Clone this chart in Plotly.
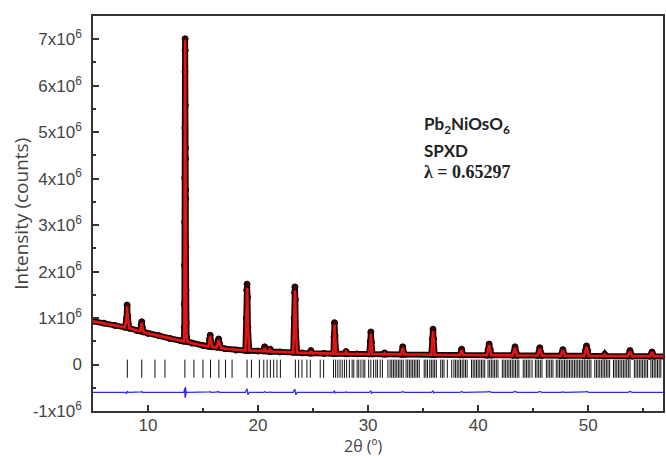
import plotly.graph_objects as go

# 2theta (deg), observed and calculated intensity (in units of 1e6 counts)
two_theta = [5.0, 6.0, 7.0, 7.9, 8.05, 8.1, 8.15, 8.3, 9.0, 9.3, 9.38, 9.43, 9.48, 9.6,
             10.0, 11.0, 12.0, 13.0, 13.25,
             13.30, 13.31, 13.32, 13.33, 13.34, 13.35, 13.36, 13.37, 13.38, 13.39, 13.40,
             13.41, 13.42, 13.43, 13.44, 13.45, 13.47, 13.50, 13.60,
             14.0, 15.0, 15.5, 15.6, 15.65, 15.72, 15.85, 16.25, 16.35, 16.42, 16.5, 16.65,
             17.0, 18.0, 18.85, 18.93, 18.97, 19.0, 19.04, 19.08, 19.2,
             20.0, 20.5, 20.6, 20.7, 21.0, 21.1, 21.2, 22.0,
             23.2, 23.28, 23.32, 23.35, 23.39, 23.43, 23.55,
             24.0, 24.7, 24.8, 24.9, 26.0, 26.85, 26.9, 26.95, 27.0, 27.1,
             27.9, 28.0, 28.1, 29.0, 30.1, 30.2, 30.25, 30.3, 30.4,
             31.4, 31.5, 31.6, 33.0, 33.15, 33.3,
             35.75, 35.85, 35.9, 35.95, 36.05,
             38.35, 38.5, 38.65, 40.8, 40.9, 41.0, 41.1, 41.2,
             43.15, 43.35, 43.55, 45.4, 45.6, 45.8, 47.5, 47.7, 47.9,
             49.65, 49.75, 49.85, 49.95, 50.05, 51.4, 51.5, 51.6,
             53.6, 53.8, 54.0, 55.6, 55.8, 56.0, 57.0]

y_obs = [0.93, 0.89, 0.84, 0.80, 1.00, 1.28, 1.05, 0.78, 0.73, 0.72, 0.85, 0.92, 0.80, 0.70,
         0.67, 0.62, 0.56, 0.51, 0.50,
         0.80, 1.30, 2.14, 3.07, 4.01, 5.09, 6.30, 7.01, 6.76, 5.58, 4.66,
         4.42, 3.76, 3.56, 2.53, 1.60, 0.90, 0.60, 0.49,
         0.46, 0.41, 0.39, 0.55, 0.63, 0.50, 0.38, 0.37, 0.50, 0.55, 0.45, 0.36,
         0.34, 0.31, 0.30, 1.00, 1.60, 1.73, 1.45, 0.80, 0.30,
         0.29, 0.29, 0.38, 0.29, 0.28, 0.33, 0.28, 0.27,
         0.26, 1.00, 1.55, 1.67, 1.40, 0.70, 0.26,
         0.25, 0.245, 0.30, 0.245, 0.24, 0.235, 0.60, 0.90, 0.62, 0.235,
         0.232, 0.28, 0.23, 0.228, 0.225, 0.50, 0.70, 0.48, 0.225,
         0.222, 0.25, 0.222, 0.218, 0.38, 0.218,
         0.212, 0.55, 0.76, 0.55, 0.21,
         0.205, 0.33, 0.205, 0.20, 0.32, 0.44, 0.32, 0.20,
         0.197, 0.38, 0.197, 0.194, 0.36, 0.194, 0.19, 0.32, 0.19,
         0.187, 0.30, 0.40, 0.30, 0.187, 0.184, 0.22, 0.184,
         0.18, 0.30, 0.18, 0.177, 0.27, 0.177, 0.175]

y_calc = [0.93, 0.89, 0.84, 0.80, 1.02, 1.25, 1.04, 0.78, 0.73, 0.72, 0.84, 0.90, 0.80, 0.70,
          0.67, 0.62, 0.56, 0.51, 0.50,
          0.75, 1.35, 2.20, 3.00, 4.10, 5.00, 6.40, 6.98, 6.70, 5.70, 4.60,
          4.30, 3.80, 3.50, 2.60, 1.55, 0.92, 0.60, 0.49,
          0.46, 0.41, 0.39, 0.54, 0.61, 0.50, 0.38, 0.37, 0.49, 0.53, 0.45, 0.36,
          0.34, 0.31, 0.30, 0.95, 1.55, 1.65, 1.45, 0.85, 0.30,
          0.29, 0.29, 0.36, 0.29, 0.28, 0.32, 0.28, 0.27,
          0.26, 0.95, 1.50, 1.60, 1.42, 0.75, 0.26,
          0.25, 0.245, 0.29, 0.245, 0.24, 0.235, 0.58, 0.86, 0.63, 0.235,
          0.232, 0.27, 0.23, 0.228, 0.225, 0.48, 0.66, 0.50, 0.225,
          0.222, 0.245, 0.222, 0.218, 0.36, 0.218,
          0.212, 0.53, 0.72, 0.56, 0.21,
          0.205, 0.31, 0.205, 0.20, 0.31, 0.42, 0.31, 0.20,
          0.197, 0.36, 0.197, 0.194, 0.34, 0.194, 0.19, 0.31, 0.19,
          0.187, 0.29, 0.38, 0.29, 0.187, 0.184, 0.215, 0.184,
          0.18, 0.28, 0.18, 0.177, 0.26, 0.177, 0.175]

# Bragg reflection positions (deg)
bragg_pos = [8.12, 9.43, 10.63, 11.54, 13.35, 14.17, 14.99, 15.68, 16.44, 17.04, 17.64,
             19.00, 19.40, 20.12, 20.52, 20.82, 21.12, 21.42, 21.72, 22.03,
             23.39, 23.69, 23.99, 24.44, 24.75, 25.65, 25.96,
             26.86, 27.05, 27.25, 27.45, 27.65, 27.85, 28.05, 28.3, 28.55, 28.7,
             29.0, 29.15, 29.35, 29.55, 29.7, 30.05, 30.25, 30.5, 30.7, 30.85, 31.1, 31.3,
             31.8, 32.0, 32.15, 32.3, 32.45, 32.6, 32.75, 32.9, 33.05, 33.2, 33.45, 33.6,
             33.75, 33.9, 34.05, 34.2, 34.35, 34.5, 34.65, 35.1, 35.25, 35.4, 35.6, 35.75,
             35.9, 36.05, 36.2, 36.6, 36.75, 36.9, 37.2, 37.6, 37.8, 37.95, 38.1, 38.25,
             38.4, 38.55, 38.7, 38.85, 39.0, 39.4, 39.55, 39.7, 39.85, 40.0, 40.15, 40.3,
             40.45, 40.6, 40.9, 41.05, 41.2, 41.35, 41.5, 41.65, 41.8, 42.2, 42.35, 42.5,
             42.65, 42.8, 42.95, 43.1, 43.25, 43.4, 43.55, 43.7, 44.1, 44.25, 44.4, 44.55,
             44.7, 44.9, 45.2, 45.35, 45.5, 45.65, 45.8, 46.2, 46.35, 46.5, 46.65, 46.8,
             47.1, 47.25, 47.4, 47.55, 47.7, 47.85, 48.0, 48.15, 48.3, 48.45, 48.6, 48.75,
             48.9, 49.05, 49.2, 49.35, 49.5, 49.65, 49.8, 49.95, 50.1, 50.25, 50.6, 50.75,
             50.9, 51.05, 51.2, 51.35, 51.5, 51.65, 51.8, 51.95, 52.3, 52.45, 52.6, 52.75,
             52.9, 53.05, 53.2, 53.35, 53.5, 53.65, 53.8, 54.2, 54.35, 54.5, 54.65, 54.8,
             54.95, 55.1, 55.25, 55.4, 55.7, 55.85, 56.0, 56.15, 56.3, 56.45, 56.6]

bragg_level = -0.09     # 1e6 counts
diff_offset = -0.6      # 1e6 counts

y_tick_vals = [-1, 0, 1, 2, 3, 4, 5, 6, 7]
y_tick_text = ["-1x10<sup>6</sup>", "0", "1x10<sup>6</sup>", "2x10<sup>6</sup>",
               "3x10<sup>6</sup>", "4x10<sup>6</sup>", "5x10<sup>6</sup>",
               "6x10<sup>6</sup>", "7x10<sup>6</sup>"]

scale = 1e6
obs = [v * scale for v in y_obs]
calc = [v * scale for v in y_calc]
diff = [(o - c + diff_offset) * scale for o, c in zip(y_obs, y_calc)]

fig = go.Figure()
fig.add_trace(go.Scatter(x=two_theta, y=obs, mode="lines+markers",
                         line=dict(color="#1a0505", width=6),
                         marker=dict(size=6, color="#3a0606",
                                     line=dict(color="#120303", width=1)),
                         showlegend=False))
fig.add_trace(go.Scatter(x=two_theta, y=calc, mode="lines",
                         line=dict(color="#e01515", width=2.6), showlegend=False))
fig.add_trace(go.Scatter(x=bragg_pos, y=[bragg_level * scale] * len(bragg_pos),
                         mode="markers",
                         marker=dict(symbol="line-ns-open", size=13, color="#111111",
                                     line=dict(color="#111111", width=1)),
                         showlegend=False))
fig.add_trace(go.Scatter(x=two_theta, y=diff, mode="lines",
                         line=dict(color="#2a2af0", width=1.2), showlegend=False))

axis_font = dict(family="Liberation Sans, Arial", size=17, color="#444444")

fig.update_xaxes(range=[5, 56.8], dtick=10, tick0=0, ticks="inside", ticklen=6,
                 tickwidth=1.5, tickcolor="#333333",
                 minor=dict(dtick=5, ticks="inside", ticklen=3, tickcolor="#333333"),
                 showline=True, linecolor="#333333", linewidth=1.5, mirror=True,
                 showgrid=False, zeroline=False, tickfont=axis_font,
                 ticklabelstandoff=-2)
fig.update_yaxes(range=[-1e6, 7.5e6], tickvals=[v * scale for v in y_tick_vals],
                 ticktext=y_tick_text, ticks="inside", ticklen=6, tickwidth=1.5,
                 tickcolor="#333333",
                 minor=dict(dtick=0.5e6, tick0=0, ticks="inside", ticklen=3,
                            tickcolor="#333333"),
                 showline=True, linecolor="#333333", linewidth=1.5, mirror=True,
                 showgrid=False, zeroline=False, tickfont=axis_font,
                 ticklabelstandoff=6)

pw, ph = 666 - 93 - 1, 459 - 16 - 48


def px_x(x):
    return (x - 93) / pw


def px_y(y):
    return 1 - (y - 16) / ph


label_font = dict(family="Lato", size=17, color="#222222")

fig.update_layout(
    width=666, height=459,
    margin=dict(l=93, r=1, t=16, b=48),
    paper_bgcolor="white", plot_bgcolor="white",
    annotations=[
        dict(text="Intensity (counts)", x=px_x(20), y=0.5, xref="paper", yref="paper",
             xanchor="center", yanchor="middle", showarrow=False, textangle=-90,
             font=dict(family="Open Sans", size=19, color="#444444")),
        dict(text="2θ (º)", x=px_x(364), y=px_y(446), xref="paper", yref="paper",
             xanchor="center", yanchor="middle", showarrow=False,
             font=dict(family="Open Sans", size=16, color="#444444")),
        dict(text="<b>Pb<sub>2</sub>NiOsO<sub>6</sub></b>", x=px_x(423), y=px_y(125),
             xref="paper", yref="paper", xanchor="left", yanchor="middle",
             showarrow=False, font=label_font),
        dict(text="<b>SPXD</b>", x=px_x(423), y=px_y(150), xref="paper", yref="paper",
             xanchor="left", yanchor="middle", showarrow=False, font=label_font),
        dict(text="<b>λ = 0.65297</b>", x=px_x(423), y=px_y(172), xref="paper",
             yref="paper", xanchor="left", yanchor="middle", showarrow=False,
             font=dict(family="Liberation Serif", size=18, color="#222222")),
    ],
)

fig.write_html("out.html")
